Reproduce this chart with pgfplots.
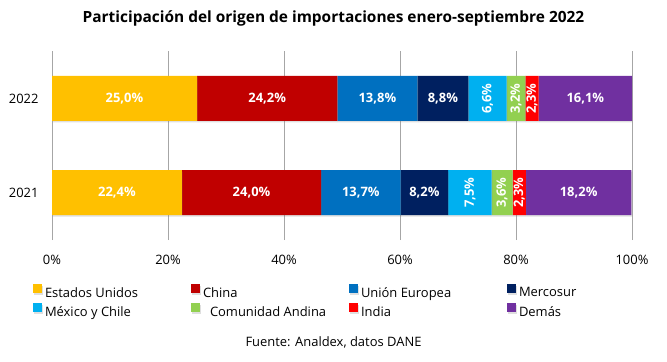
\documentclass[border=0pt]{standalone}
\usepackage{pgfplots}
\pgfplotsset{compat=1.18}
\usetikzlibrary{shadows}
\usepackage{fontspec}
\setmainfont{Open Sans}
\definecolor{cEU}{HTML}{FFC000}
\definecolor{cCN}{HTML}{C00000}
\definecolor{cUE}{HTML}{0070C0}
\definecolor{cMS}{HTML}{002060}
\definecolor{cMC}{HTML}{00B0F0}
\definecolor{cCA}{HTML}{92D050}
\definecolor{cIN}{HTML}{FF0000}
\definecolor{cDE}{HTML}{7030A0}
\begin{document}
\begin{tikzpicture}[x=1bp,y=1bp]
\path[use as bounding box] (0,0) rectangle (667,361);
\begin{axis}[
  at={(52bp,121bp)}, anchor=south west, scale only axis,
  width=580bp, height=189bp,
  xbar stacked, bar width=45bp,
  xmin=0, xmax=100, ymin=-0.505, ymax=1.505,
  ytick={0,1}, yticklabels={2021,2022},
  xtick={0,20,40,60,80,100},
  /pgf/number format/assume math mode=true,
  xticklabel={\pgfmathprintnumber{\tick}\%},
  axis line style={draw=none},
  major tick length=0pt,
  xmajorgrids, grid style={color=black!35, line width=0.9bp},
  tick label style={font=\fontsize{13}{15}\selectfont},
  xticklabel style={yshift=-12bp},
  yticklabel style={xshift=-10bp},
  every axis plot/.append style={drop shadow={shadow xshift=0.6bp, shadow yshift=-1.5bp, opacity=0.25}},
  visualization depends on={rawx \as \rawx},
  nodes near coords={\pgfmathprintnumber[fixed,fixed zerofill,precision=1,use comma]{\rawx}\%},
  every node near coord/.append style={font=\bfseries\fontsize{13}{15}\selectfont, text=white, anchor=center},
  legend columns=4,
  legend cell align=left,
  legend style={draw=none, fill=none, inner sep=0pt, outer sep=0pt,
    at={(axis description cs:0,0)}, anchor=north west, xshift=-19bp, yshift=-44bp,
    font=\fontsize{13}{15}\selectfont,
    nodes={inner sep=0pt},
    /tikz/every odd column/.append style={column sep=3bp},
    row sep=4.5bp},
  legend image code/.code={\fill[#1] (0bp,0bp) rectangle (9bp,9bp);},
]
\addplot[fill=cEU, draw=none] coordinates {(22.4,0) (25.0,1)};
\addlegendentry{\makebox[146bp][l]{Estados Unidos}}
\addplot[fill=cCN, draw=none] coordinates {(24.0,0) (24.2,1)};
\addlegendentry{\makebox[146bp][l]{China}}
\addplot[fill=cUE, draw=none] coordinates {(13.7,0) (13.8,1)};
\addlegendentry{\makebox[146bp][l]{Unión Europea}}
\addplot[fill=cMS, draw=none] coordinates {(8.2,0) (8.8,1)};
\addlegendentry{Mercosur}
\addplot[fill=cMC, draw=none, every node near coord/.append style={rotate=90}] coordinates {(7.5,0) (6.6,1)};
\addlegendentry{\makebox[146bp][l]{México y Chile}}
\addplot[fill=cCA, draw=none, every node near coord/.append style={rotate=90}] coordinates {(3.6,0) (3.2,1)};
\addlegendentry{\makebox[146bp][l]{\hspace{7bp}Comunidad Andina}}
\addplot[fill=cIN, draw=none, every node near coord/.append style={rotate=90}] coordinates {(2.3,0) (2.3,1)};
\addlegendentry{\makebox[146bp][l]{India}}
\addplot[fill=cDE, draw=none] coordinates {(18.2,0) (16.1,1)};
\addlegendentry{Demás}
\end{axis}
\node[anchor=base, font=\bfseries\fontsize{15.5}{18}\selectfont] at (333.5,339) {Participación del origen de importaciones enero-septiembre 2022};
\node[anchor=base, font=\fontsize{13}{15}\selectfont] at (333.5,15) {Fuente: Analdex, datos DANE};
\end{tikzpicture}
\end{document}
